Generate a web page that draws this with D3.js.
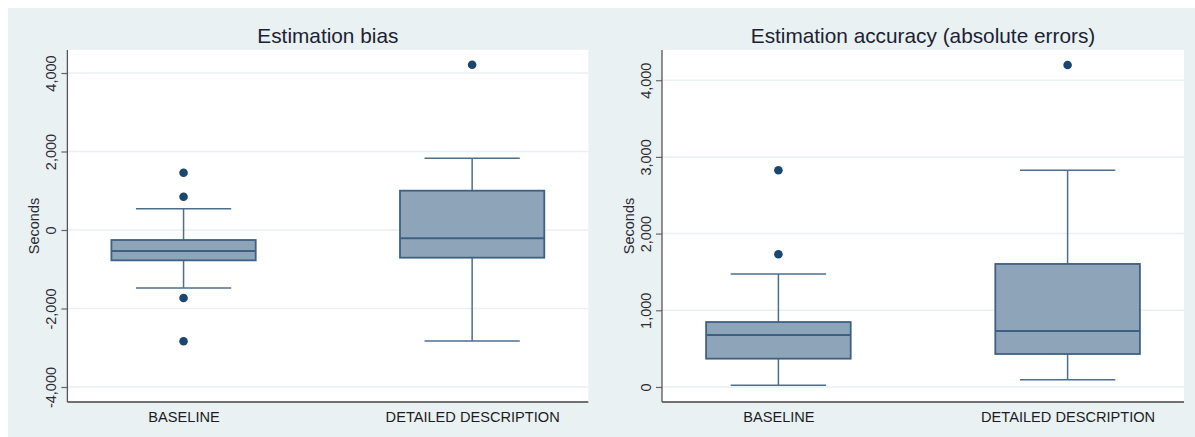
<!DOCTYPE html>
<html>
<head>
<meta charset="utf-8">
<script src="https://cdn.jsdelivr.net/npm/d3@7"></script>
<style>
  html, body { margin: 0; padding: 0; background: #ffffff; }
  svg { display: block; font-family: "Liberation Sans", Arial, sans-serif; }
</style>
</head>
<body>
<svg id="chart" width="1195" height="437"></svg>
<script>
// Groups compared in both panels
const groups = ["BASELINE", "DETAILED DESCRIPTION"];

// Estimation bias (seconds): box-plot summaries per group
const biasLowerWhisker = [-1478, -2828];
const biasQ1 = [-773, -705];
const biasMedian = [-535, -212];
const biasQ3 = [-255, 1002];
const biasUpperWhisker = [540, 1826];
const biasOutliers = [[1460, 848, -1733, -2836], [4212]];
const biasTicks = [-4000, -2000, 0, 2000, 4000];

// Estimation accuracy (absolute errors, seconds)
const accLowerWhisker = [22, 95];
const accQ1 = [369, 430];
const accMedian = [678, 730];
const accQ3 = [847, 1604];
const accUpperWhisker = [1473, 2825];
const accOutliers = [[2825, 1730], [4198]];
const accTicks = [0, 1000, 2000, 3000, 4000];

const svg = d3.select("#chart");
// thousands separator, plain hyphen for negatives
const fmt = d3.formatLocale({ decimal: ".", thousands: ",", grouping: [3], currency: ["", ""], minus: "-" }).format(",");

// Light bluish-gray graph region behind both panels
svg.append("rect")
  .attr("x", 8).attr("y", 8)
  .attr("width", 1187).attr("height", 429)
  .attr("fill", "#e9f1f3");

function panel(opts) {
  const { left, right, top, bottom, domain, title, ticks, lw, q1, med, q3, uw, outliers } = opts;
  const g = svg.append("g");

  const y = d3.scaleLinear().domain(domain).range([bottom, top]);
  const x = d3.scalePoint().domain(groups).range([left, right]).padding(0.4025);
  const step = x.step();
  const boxHalf = step * 0.25;
  const capHalf = boxHalf * 0.66;

  // plot region
  g.append("rect")
    .attr("x", left).attr("y", top)
    .attr("width", right - left).attr("height", bottom - top)
    .attr("fill", "#ffffff");

  // horizontal grid lines
  g.selectAll(".grid").data(ticks).join("line")
    .attr("x1", left).attr("x2", right)
    .attr("y1", d => y(d)).attr("y2", d => y(d))
    .attr("stroke", "#e8f0f2").attr("stroke-width", 1.5);

  // title
  g.append("text")
    .attr("x", (left + right) / 2).attr("y", 43)
    .attr("text-anchor", "middle")
    .attr("font-size", "20.8px")
    .attr("fill", "#1c2233")
    .text(title);

  // y axis
  const yAxis = d3.axisLeft(y).tickValues(ticks).tickSize(6).tickFormat(fmt);
  const ya = g.append("g").attr("transform", `translate(${left},0)`).call(yAxis);
  ya.select(".domain").remove();
  ya.selectAll(".tick line").attr("stroke", "#666").attr("stroke-width", 1.2);
  ya.selectAll(".tick text")
    .attr("x", 0).attr("y", 0).attr("dy", 0)
    .attr("transform", "translate(-11.5,0) rotate(-90)")
    .attr("text-anchor", "middle")
    .attr("font-size", "14.5px")
    .attr("font-family", "Liberation Sans, Arial, sans-serif")
    .attr("fill", "#2b2b33");

  g.append("line")
    .attr("x1", left).attr("x2", left)
    .attr("y1", top).attr("y2", bottom)
    .attr("stroke", "#555").attr("stroke-width", 1.3);

  // y axis title
  g.append("text")
    .attr("transform", `translate(${left - 28},${(top + bottom) / 2}) rotate(-90)`)
    .attr("text-anchor", "middle")
    .attr("font-size", "14.5px")
    .attr("fill", "#2b2b33")
    .text("Seconds");

  // x axis
  const xAxis = d3.axisBottom(x).tickSize(0).tickPadding(0);
  const xa = g.append("g").attr("transform", `translate(0,${bottom})`).call(xAxis);
  xa.select(".domain").remove();
  xa.selectAll(".tick text")
    .attr("y", 20).attr("dy", 0)
    .attr("font-size", "14.6px")
    .attr("font-family", "Liberation Sans, Arial, sans-serif")
    .attr("fill", "#1c1c24");
  g.append("line")
    .attr("x1", left).attr("x2", right)
    .attr("y1", bottom).attr("y2", bottom)
    .attr("stroke", "#444").attr("stroke-width", 1.3);

  const stroke = "#3e6083";
  groups.forEach((grp, i) => {
    const cx = x(grp);
    const bg = g.append("g");
    // whiskers
    bg.append("line").attr("x1", cx).attr("x2", cx)
      .attr("y1", y(q3[i])).attr("y2", y(uw[i]))
      .attr("stroke", "#4d6f8f").attr("stroke-width", 1.5);
    bg.append("line").attr("x1", cx).attr("x2", cx)
      .attr("y1", y(q1[i])).attr("y2", y(lw[i]))
      .attr("stroke", "#4d6f8f").attr("stroke-width", 1.5);
    [uw[i], lw[i]].forEach(v => {
      bg.append("line")
        .attr("x1", cx - capHalf).attr("x2", cx + capHalf)
        .attr("y1", y(v)).attr("y2", y(v))
        .attr("stroke", "#4d6f8f").attr("stroke-width", 1.5);
    });
    // box
    bg.append("rect")
      .attr("x", cx - boxHalf).attr("y", y(q3[i]))
      .attr("width", boxHalf * 2).attr("height", y(q1[i]) - y(q3[i]))
      .attr("fill", "#8ea4b8")
      .attr("stroke", stroke).attr("stroke-width", 1.8);
    // median
    bg.append("line")
      .attr("x1", cx - boxHalf).attr("x2", cx + boxHalf)
      .attr("y1", y(med[i])).attr("y2", y(med[i]))
      .attr("stroke", stroke).attr("stroke-width", 2);
    // outside values
    bg.selectAll("circle").data(outliers[i]).join("circle")
      .attr("cx", cx).attr("cy", d => y(d))
      .attr("r", 4.3)
      .attr("fill", "#1a476f");
  });
}

panel({
  left: 67.4, right: 588.3, top: 50, bottom: 402,
  domain: [-4382, 4586],
  title: "Estimation bias",
  ticks: biasTicks,
  lw: biasLowerWhisker, q1: biasQ1, med: biasMedian, q3: biasQ3, uw: biasUpperWhisker,
  outliers: biasOutliers
});

panel({
  left: 662, right: 1184, top: 50, bottom: 402,
  domain: [-196, 4394],
  title: "Estimation accuracy (absolute errors)",
  ticks: accTicks,
  lw: accLowerWhisker, q1: accQ1, med: accMedian, q3: accQ3, uw: accUpperWhisker,
  outliers: accOutliers
});
</script>
</body>
</html>
